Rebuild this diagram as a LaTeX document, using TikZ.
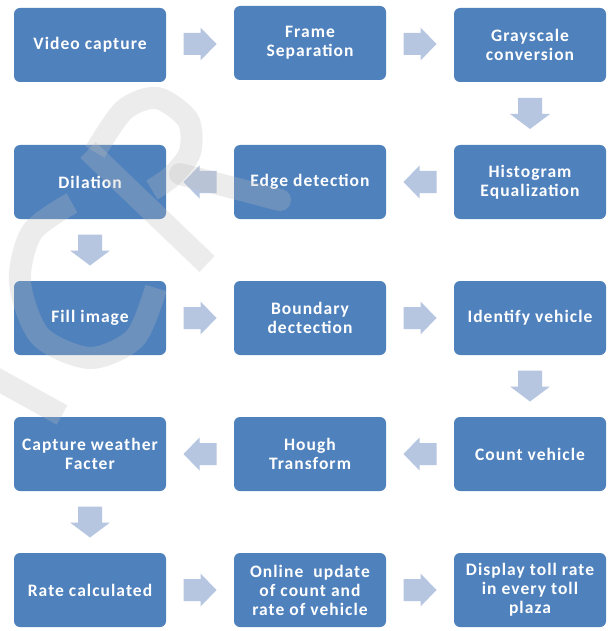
\documentclass[tikz,border=0pt]{standalone}
\usepackage{fontspec}
\setmainfont{Carlito}[LetterSpace=6]
\usetikzlibrary{calc}
\definecolor{boxblue}{HTML}{4F81BD}
\definecolor{arrowblue}{HTML}{B7C6E0}
\definecolor{wmgray}{gray}{0.74}
\newcommand\bxfont{\fontsize{17.5}{19}\selectfont\bfseries}
\newcommand\blockR[2]{\path ($(#1.east)!0.5!(#2.west)$) coordinate (m#1#2);
  \fill[blockarrow,shift={(m#1#2)}] (-16.5,-11)--(0.5,-11)--(0.5,-16.5)--(16.5,0)--(0.5,16.5)--(0.5,11)--(-16.5,11)--cycle;}
\newcommand\blockL[2]{\path ($(#1.west)!0.5!(#2.east)$) coordinate (m#1#2);
  \fill[blockarrow,shift={(m#1#2)},xscale=-1] (-16.5,-11)--(0.5,-11)--(0.5,-16.5)--(16.5,0)--(0.5,16.5)--(0.5,11)--(-16.5,11)--cycle;}
\newcommand\blockD[2]{\path ($(#1.south)!0.5!(#2.north)$) coordinate (m#1#2);
  \fill[blockarrow,shift={(m#1#2)}] (-12,-15.5)--(12,-15.5)--(12,0.5)--(20,0.5)--(0,15.5)--(-20,0.5)--(-12,0.5)--cycle;}
\begin{document}
\begin{tikzpicture}[x=1pt,y=-1pt,
  box/.style={draw=none, fill=boxblue, rounded corners=6pt, minimum width=152pt,
    minimum height=74pt, inner sep=2pt, align=center, text=white, font=\bxfont},
  blockarrow/.style={fill=arrowblue, draw=none},
  wm/.style={draw=wmgray, line width=22pt, opacity=0.28, line cap=butt}]
\fill[white] (0,0) rectangle (608,631);
\useasboundingbox (0,0) rectangle (608,631);
% boxes
\node[box] (vc) at (90,45) {Video capture};
\node[box] (fs) at (310,43) {Frame\\Separation};
\node[box] (gc) at (530,45) {Grayscale\\conversion};
\node[box] (he) at (530,182) {Histogram\\Equalization};
\node[box] (ed) at (310,182) {Edge detection};
\node[box] (di) at (90,182) {Dilation};
\node[box] (fi) at (90,318) {Fill image};
\node[box] (bd) at (310,318) {Boundary\\dectection};
\node[box] (iv) at (530,318) {Identify vehicle};
\node[box] (cv) at (530,454) {Count vehicle};
\node[box] (ht) at (310,454) {Hough\\Transform};
\node[box] (cw) at (90,454) {Capture weather\\Facter};
\node[box] (rc) at (90,590) {Rate calculated};
\node[box] (ou) at (310,590) {Online\ \ update\\of count and\\rate of vehicle};
\node[box] (dt) at (530,590) {Display toll rate\\in every toll\\plaza};
% block arrows
\blockR{vc}{fs}
\blockR{fs}{gc}
\blockD{gc}{he}
\blockL{he}{ed}
\blockL{ed}{di}
\blockD{di}{fi}
\blockR{fi}{bd}
\blockR{bd}{iv}
\blockD{iv}{cv}
\blockL{cv}{ht}
\blockL{ht}{cw}
\blockD{cw}{rc}
\blockR{rc}{ou}
\blockR{ou}{dt}
% watermark
\draw[wm] plot[smooth] coordinates {(72,203) (32,232) (20,282) (40,336) (90,358) (135,338) (156,288)};
\draw[wm] (88,150) -- (207,264);
\draw[wm] plot[smooth] coordinates {(95,152) (124,110) (157,98) (188,120) (190,152) (172,176) (152,190)};
\draw[wm, line cap=round] (180,174) -- (280,200);
\draw[wm] (-5,378) -- (62,415);
\end{tikzpicture}
\end{document}
